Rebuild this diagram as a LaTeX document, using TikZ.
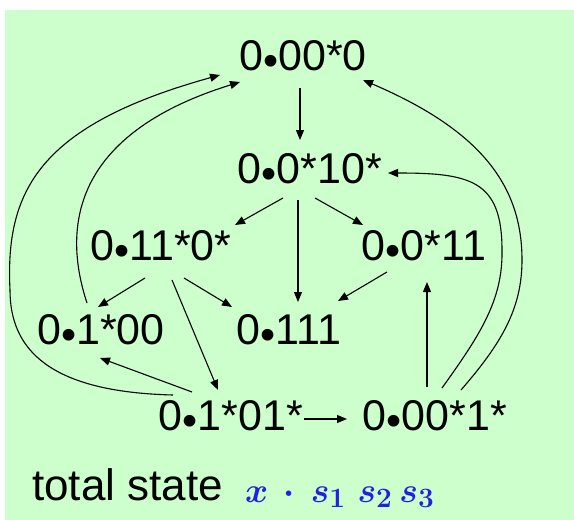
\RequirePackage{fix-cm}
\documentclass[tikz,border=0pt]{standalone}
\usepackage{fontspec}
\setmainfont{Liberation Sans}
\usetikzlibrary{arrows.meta,calc}
\definecolor{mint}{HTML}{CCFFCC}
\definecolor{inkblue}{HTML}{2020E8}
\newcommand{\sdot}{\raisebox{-0.1em}{\textbullet}}
\newcommand{\subd}[1]{_{\mbox{\fontsize{28}{30}\selectfont\boldmath$#1$}}}

\tikzset{
  state/.style={font=\fontsize{43}{50}\selectfont, inner sep=0pt},
  trans/.style={-{Triangle[length=10pt,width=8pt]}, line width=1.1pt},
}

\begin{document}
\begin{tikzpicture}[x=1pt,y=-1pt]
  \useasboundingbox (0,0) rectangle (574,520);
  \fill[mint] (5,10) rectangle (574,520);

  % states x.s1s2s3
  \node[state] (s000) at (303,58) {0\sdot00*0};
  \node[state] (s010) at (310,171) {0\sdot0*10*};
  \node[state] (s110) at (161,248) {0\sdot11*0*};
  \node[state] (s011) at (424,248) {0\sdot0*11};
  \node[state] (s100) at (101,332) {0\sdot1*00};
  \node[state] (s111) at (289,332) {0\sdot111};
  \node[state] (s101) at (231,418) {0\sdot1*01*};
  \node[state] (s001) at (435,418) {0\sdot00*1*};

  % legend
  \node[state, font=\fontsize{44}{50}\selectfont, anchor=base west] (legend) at (32,500) {total state};
  \node[anchor=base west, inner sep=0pt, text=inkblue,
        font=\fontsize{35}{42}\selectfont\boldmath] (vars) at (245,502)
        {$x\,\cdot\,s\subd{1}\hspace{12pt}s\subd{2}\hspace{7pt}s\subd{3}$};

  % straight transitions
  \draw[trans] ($(s000)+(-3,30)$) -- ($(s010)+(-10,-31)$);
  \draw[trans] ($(s010)+(-27,27)$) -- ($(s110)+(74,-23)$);
  \draw[trans] ($(s010)+(5,27)$) -- ($(s011)+(-61,-23)$);
  \draw[trans] ($(s010)+(-12,29)$) -- ($(s111)+(9,-30)$);
  \draw[trans] ($(s110)+(-16,30)$) -- ($(s100)+(-3,-25)$);
  \draw[trans] ($(s110)+(23,30)$) -- ($(s111)+(-57,-25)$);
  \draw[trans] ($(s110)+(11,32)$) -- ($(s101)+(-13,-28)$);
  \draw[trans] ($(s011)+(-37,24)$) -- ($(s111)+(49,-31)$);
  \draw[trans] ($(s101)+(-39,-26)$) -- ($(s100)+(-1,26)$);
  \draw[trans] ($(s101)+(73,1)$) -- ($(s001)+(-88,1)$);
  \draw[trans] ($(s001)+(-8,-31)$) -- ($(s011)+(3,34)$);

  % curved transitions back up
  \draw[trans] ($(s100)+(-14,-29)$) .. controls (58,215) and (85,130) .. ($(s000)+(-63,24)$);
  \draw[trans] ($(s101)+(-58,-23)$) .. controls (50,392) and (10,350) .. (10,290)
    .. controls (5,190) and (40,125) .. ($(s000)+(-83,17)$);
  \draw[trans] ($(s001)+(7,-30)$) .. controls (480,335) and (503,300) .. (502,250)
    .. controls (502,180) and (470,173) .. ($(s010)+(78,2)$);
  \draw[trans] ($(s001)+(26,-28)$) .. controls (500,345) and (522,310) .. (522,260)
    .. controls (522,185) and (480,130) .. ($(s000)+(60,22)$);
\end{tikzpicture}
\end{document}
